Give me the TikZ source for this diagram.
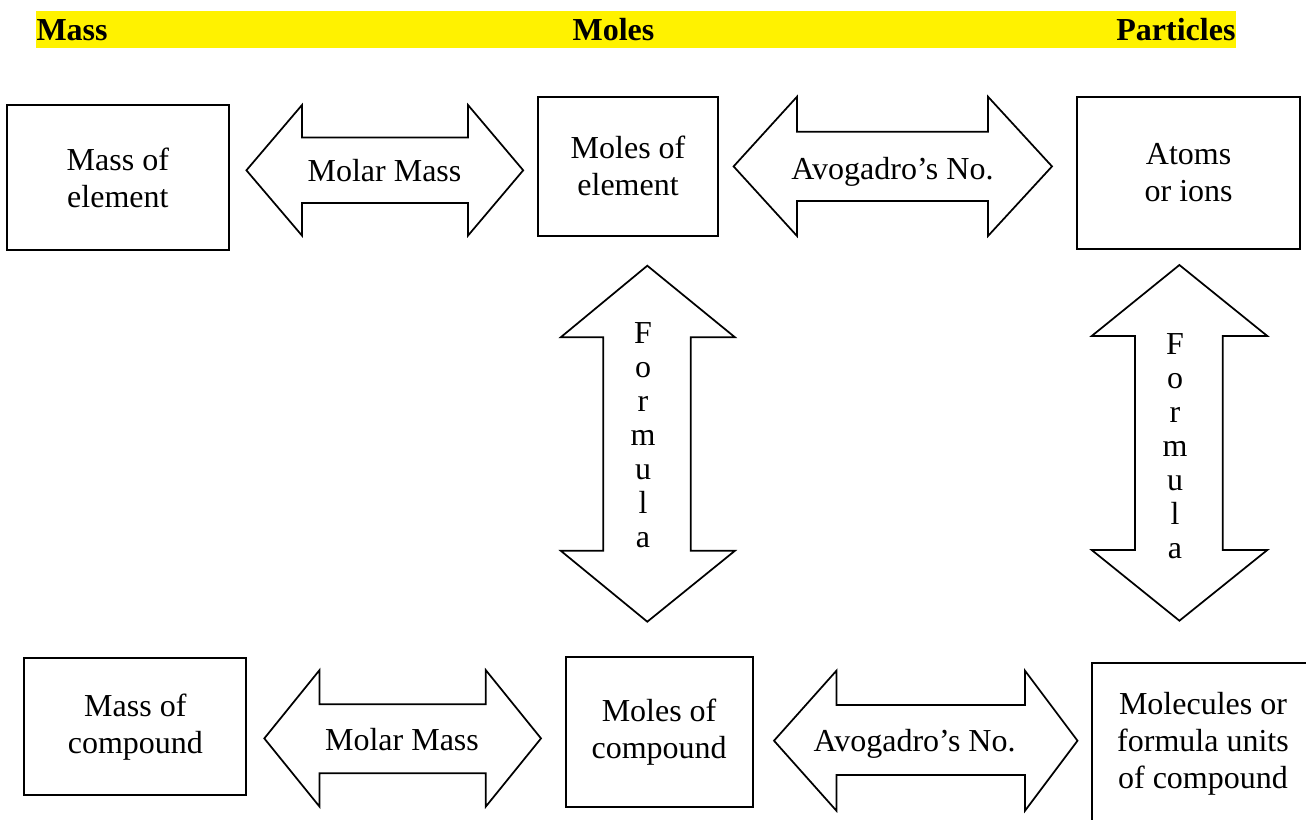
\documentclass[tikz,border=0pt]{standalone}
\usepackage{fontspec}
\setmainfont{Liberation Serif}
\def\pxu{0.375pt}
\tikzset{
  box/.style={draw, line width=0.75pt, rectangle, inner sep=0pt, align=center,
    font=\fontsize{12}{13.875}\selectfont},
  blockarrow/.style={draw, line width=0.65pt, line join=miter, fill=white},
  lbl/.style={inner sep=0pt, anchor=base, font=\fontsize{12}{13.875}\selectfont},
  vlbl/.style={inner sep=0pt, align=center, font=\fontsize{12}{12.75}\selectfont},
  head/.style={inner sep=0pt, font=\fontsize{12}{13.875}\selectfont\bfseries}
}
\begin{document}
\begin{tikzpicture}[x=0.375pt,y=-0.375pt]
\useasboundingbox (0,0) rectangle (1306,819);
\clip (0,0) rectangle (1306,819);

% header band
\fill[yellow] (36,11) rectangle (1236,47.7);
\node[head, anchor=base west] (hmass) at (36,40.7) {Mass};
\node[head, anchor=base west] (hmoles) at (572,40.7) {Moles};
\node[head, anchor=base east] (hpart) at (1236,40.7) {Particles};

% boxes
\node[box, minimum width=221.5*\pxu, minimum height=145*\pxu] (mel) at (117.85,177.5) {Mass of\\element};
\node[box, minimum width=180.3*\pxu, minimum height=139*\pxu] (molel) at (628.05,166.2) {Moles of\\element};
\node[box, minimum width=222.7*\pxu, minimum height=152.6*\pxu] (atoms) at (1188.65,173) {Atoms\\or ions};
\node[box, minimum width=222.1*\pxu, minimum height=136.7*\pxu] (mcomp) at (135.35,726.65) {Mass of\\compound};
\node[box, minimum width=186.8*\pxu, minimum height=149.4*\pxu] (molcomp) at (659.1,732) {Moles of\\compound};
\node[box, minimum width=221.4*\pxu, minimum height=162.6*\pxu] (molec) at (1203,744) {Molecules or\\formula units\\of compound};

% horizontal block arrows
\draw[blockarrow] (246.4,170.3) -- (302,105) -- (302,137.5) -- (468,137.5) -- (468,105)
  -- (523.2,170.3) -- (468,235.6) -- (468,203.1) -- (302,203.1) -- (302,235.6) -- cycle;
\node[lbl] (mm1) at (384.5,181.7) {Molar Mass};

\draw[blockarrow] (733.6,166.4) -- (797,96.7) -- (797,131.7) -- (988,131.7) -- (988,96.7)
  -- (1052,166.4) -- (988,236) -- (988,201) -- (797,201) -- (797,236) -- cycle;
\node[lbl] (av1) at (892.5,179) {Avogadro’s No.};

\draw[blockarrow] (264.3,738.4) -- (319.6,670) -- (319.6,704.3) -- (485.7,704.3) -- (485.7,670)
  -- (541,738.4) -- (485.7,806.7) -- (485.7,773.3) -- (319.6,773.3) -- (319.6,806.7) -- cycle;
\node[lbl] (mm2) at (402,750) {Molar Mass};

\draw[blockarrow] (774,740.7) -- (836.4,670.7) -- (836.4,705) -- (1025,705) -- (1025,670.7)
  -- (1077.5,740.7) -- (1025,810.7) -- (1025,775) -- (836.4,775) -- (836.4,810.7) -- cycle;
\node[lbl] (av2) at (914.6,751.7) {Avogadro’s No.};

% vertical block arrows
\draw[blockarrow] (647.3,265.7) -- (735,337.3) -- (690.7,337.3) -- (690.7,550.7) -- (735,550.7)
  -- (647.3,621.7) -- (560.7,550.7) -- (603.3,550.7) -- (603.3,337.3) -- (560.7,337.3) -- cycle;
\node[vlbl] (f1) at (643,434.7) {F\\o\\r\\m\\u\\l\\a};

\draw[blockarrow] (1179.4,265) -- (1267.3,336) -- (1222.7,336) -- (1222.7,550) -- (1267.3,550)
  -- (1179.4,620.7) -- (1091.7,550) -- (1135,550) -- (1135,336) -- (1091.7,336) -- cycle;
\node[vlbl] (f2) at (1175,446.4) {F\\o\\r\\m\\u\\l\\a};
\end{tikzpicture}
\end{document}
